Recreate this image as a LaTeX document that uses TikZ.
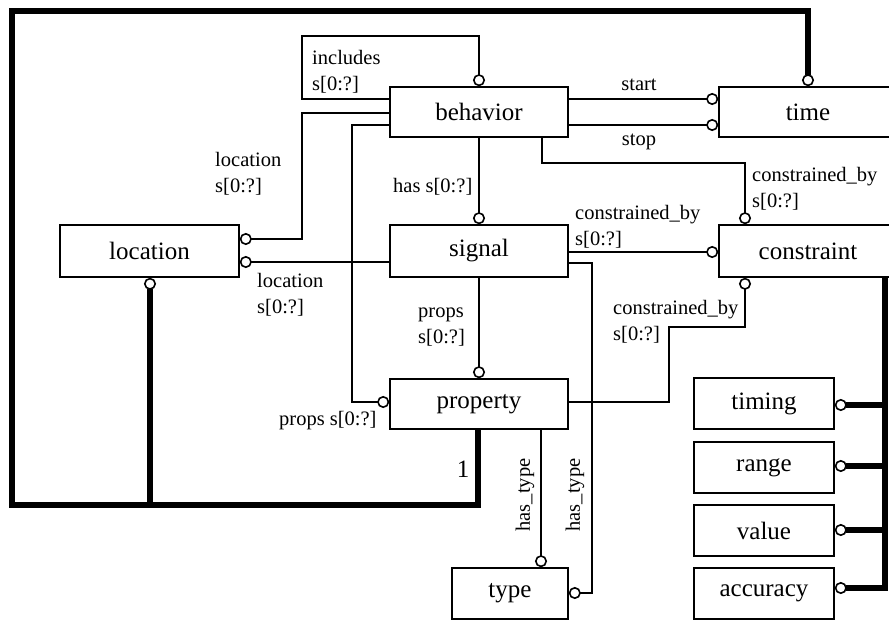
\documentclass[tikz,border=0pt]{standalone}
\usepackage{fontspec}
\setmainfont{Liberation Serif}
\usetikzlibrary{arrows.meta}
\begin{document}
\begin{tikzpicture}[x=1pt,y=-1pt,
  box/.style={draw,line width=1.6pt,minimum height=50pt,inner sep=0pt,fill=white,font=\fontsize{25}{30}\selectfont},
  lbl/.style={inner sep=0pt,align=left,anchor=base west,font=\fontsize{20.5}{25.5}\selectfont},
  conn/.style={line width=1.6pt},
  heavy/.style={line width=5.5pt},
  ring/.style={-{Circle[length=12pt,width=12pt,line width=1.6pt,fill=white]}},
]
\useasboundingbox (0,0) rectangle (889,621);
\clip (0,0) rectangle (889,621);
\fill[white] (0,0) rectangle (889,621);

% boxes
\node[box,minimum width=178pt] (behavior) at (479,112) {behavior};
\node[box,minimum width=178pt] (time) at (808,112) {time};
\node[box,minimum width=179pt,minimum height=52pt] (location) at (149.5,251) {location};
\node[box,minimum width=178pt,minimum height=52pt] (signal) at (479,251) {signal};
\node[box,minimum width=178pt,minimum height=52pt] (constraint) at (808,251) {constraint};
\node[box,minimum width=178pt] (property) at (479,404) {property};
\node[box,minimum width=116pt,minimum height=51pt] (type) at (510,593.5) {type};
\node[box,minimum width=140pt,minimum height=51pt] (timing) at (764,403.5) {timing};
\node[box,minimum width=140pt,minimum height=51pt] (range) at (764,467.5) {range};
\node[box,minimum width=140pt,minimum height=51pt] (value) at (764,530.5) {value};
\node[box,minimum width=140pt,minimum height=51pt] (accuracy) at (764,593.5) {accuracy};

% thin connectors
\draw[conn,ring] (behavior.west |- 0,99) -| (302,36) -| (behavior.north);
\draw[conn,ring] (behavior.west |- 0,113) -| (302,239) -- (location.east |- 0,239);
\draw[conn,ring] (behavior.west |- 0,125) -| (352,402) -- (property.west |- 0,402);
\draw[conn,ring] (behavior.east |- 0,99) -- (time.west |- 0,99);
\draw[conn,ring] (behavior.east |- 0,125) -- (time.west |- 0,125);
\draw[conn,ring] (behavior.south -| 542,0) |- (745,163) -- (constraint.north -| 745,0);
\draw[conn,ring] (behavior.south) -- (signal.north);
\draw[conn,ring] (signal.east |- 0,252) -- (constraint.west |- 0,252);
\draw[conn,ring] (signal.east |- 0,263) -| (592,593) -- (type.east |- 0,593);
\draw[conn,ring] (signal.west |- 0,262) -- (location.east |- 0,262);
\draw[conn,ring] (signal.south) -- (property.north);
\draw[conn,ring] (property.east |- 0,402) -| (669,327) -| (constraint.south -| 745,0);
\draw[conn,ring] (property.south -| 541,0) -- (type.north -| 541,0);

% heavy connectors
\coordinate (j1) at (150,505);
\draw[heavy,ring] (property.south -| 478,0) |- (12,505) |- (808,11) -- (time.north -| 808,0);
\draw[heavy,ring] (j1) -- (location.south -| 150,0);
\draw[heavy,ring] (constraint.south -| 885,0) |- (accuracy.east |- 0,588);
\draw[heavy,ring] (885,405) -- (timing.east |- 0,405);
\draw[heavy,ring] (885,466) -- (range.east |- 0,466);
\draw[heavy,ring] (885,530) -- (value.east |- 0,530);

% labels
\node[lbl] (l-incl) at (312,90) {includes\\s[0:?]};
\node[lbl] (l-loc1) at (215,192) {location\\s[0:?]};
\node[lbl] (l-has) at (393,192) {has s[0:?]};
\node[lbl,anchor=base] (l-start) at (639,90) {start};
\node[lbl,anchor=base] (l-stop) at (639,145) {stop};
\node[lbl] (l-cb1) at (752,207) {constrained\_by\\s[0:?]};
\node[lbl] (l-cb2) at (575,245) {constrained\_by\\s[0:?]};
\node[lbl] (l-cb3) at (613,340) {constrained\_by\\s[0:?]};
\node[lbl] (l-loc2) at (257,313) {location\\s[0:?]};
\node[lbl] (l-props1) at (418,343) {props\\s[0:?]};
\node[lbl] (l-props2) at (279,425) {props s[0:?]};
\node[inner sep=0pt,font=\fontsize{25}{30}\selectfont] (l-one) at (463,469) {1};
\node[lbl,rotate=90,anchor=center] (l-ht1) at (525,495) {has\_type};
\node[lbl,rotate=90,anchor=center] (l-ht2) at (575,495) {has\_type};
\end{tikzpicture}
\end{document}
